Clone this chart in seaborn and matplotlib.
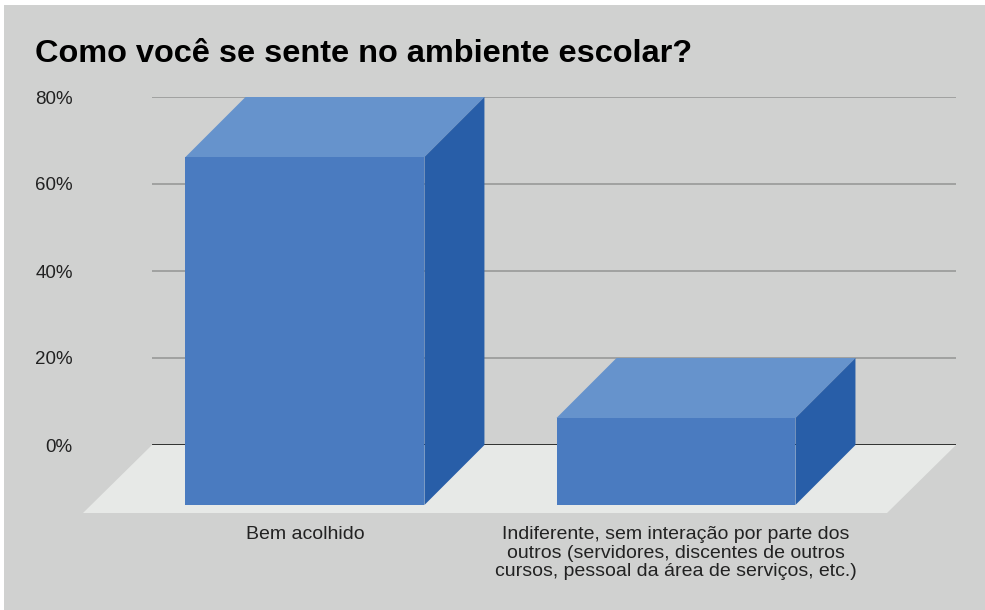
import matplotlib
matplotlib.use("Agg")
import matplotlib.pyplot as plt
from matplotlib.patches import Polygon, Rectangle
from matplotlib.transforms import IdentityTransform
import seaborn as sns
import pandas as pd

# ---- data ----
categories = [
    "Bem acolhido",
    "Indiferente, sem interação por parte dos\noutros (servidores, discentes de outros\ncursos, pessoal da área de serviços, etc.)",
]
values = [80, 20]
y_ticks = [0, 20, 40, 60, 80]
y_tick_labels = ["0%", "20%", "40%", "60%", "80%"]
title = "Como você se sente no ambiente escolar?"

# ---- style ----
W, H, DPI = 985, 610, 100
BG = "#d0d1d0"
FLOOR = "#e7e9e7"
FRONT = "#4a7bc0"
TOP = "#6693cc"
SIDE = "#285ea8"
GRID = "#9d9e9d"
TXT = "#222222"
DEPTH = 60          # px depth of the bars
FLOOR_FRONT = 8     # px the floor sticks out in front of the bars

sns.set_theme(style="white")
plt.rcParams["font.family"] = ["Liberation Sans", "DejaVu Sans"]

fig = plt.figure(figsize=(W / DPI, H / DPI), dpi=DPI, facecolor="white")
fig.patches.append(Rectangle((4 / W, 0), 1, 1 - 5 / H, transform=fig.transFigure,
                             facecolor=BG, edgecolor="none", zorder=-10))

def frac(left, top, right, bottom):
    return [left / W, 1 - bottom / H, (right - left) / W, (bottom - top) / H]

# back plane (gridlines) and front plane (bars)
back_px = (152, 97, 956, 445)
front_px = (back_px[0] - DEPTH, back_px[1] + DEPTH, back_px[2] - DEPTH, back_px[3] + DEPTH)
ax_back = fig.add_axes(frac(*back_px))
ax_front = fig.add_axes(frac(*front_px))

xlim = (-0.574, 1.593)
ylim = (0, 80)
for ax in (ax_back, ax_front):
    ax.set_xlim(*xlim)
    ax.set_ylim(*ylim)
    ax.patch.set_alpha(0)
    for s in ax.spines.values():
        s.set_visible(False)

# back wall: gridlines & y labels
for v in y_ticks[1:]:
    ax_back.axhline(v, color=GRID, lw=1.3, zorder=1)
ax_back.axhline(0, color=TXT, lw=2.0, zorder=2)
ax_back.set_yticks(y_ticks)
ax_back.set_yticklabels(y_tick_labels, fontsize=13.5, color=TXT)
ax_back.tick_params(axis="y", length=0, pad=57)
ax_back.set_xticks([])

# bars (front faces)
df = pd.DataFrame({"cat": categories, "val": values})
sns.barplot(data=df, x="cat", y="val", ax=ax_front, color=FRONT, saturation=1,
            width=0.644, edgecolor="none", zorder=5)
ax_front.set_xlim(*xlim)
ax_front.set_ylim(*ylim)
ax_front.set_xlabel("")
ax_front.set_ylabel("")
ax_front.set_yticks([])
ax_front.tick_params(axis="x", length=0, pad=15)
for lbl in ax_front.get_xticklabels():
    lbl.set_fontsize(14)
    lbl.set_color(TXT)
    lbl.set_linespacing(1.14)
    lbl.set_multialignment("center")

fig.canvas.draw()
ident = IdentityTransform()

# floor (drawn in the back axes so it sits behind the bars)
bx0, by0 = ax_back.transData.transform((xlim[0], 0))
bx1, _ = ax_back.transData.transform((xlim[1], 0))
dd = DEPTH + FLOOR_FRONT
floor = Polygon([(bx0, by0), (bx1, by0), (bx1 - dd - 1, by0 - dd), (bx0 - dd - 1, by0 - dd)],
                closed=True, transform=ident, facecolor=FLOOR, edgecolor="none", zorder=0,
                clip_on=False)
ax_back.add_patch(floor)

# 3D faces of bars
for p in list(ax_front.patches):
    (x0, y0), (x1, y1) = ax_front.transData.transform([(p.get_x(), p.get_y()),
                                                       (p.get_x() + p.get_width(), p.get_y() + p.get_height())])
    top = Polygon([(x0, y1), (x1, y1), (x1 + DEPTH, y1 + DEPTH), (x0 + DEPTH, y1 + DEPTH)],
                  closed=True, transform=ident, facecolor=TOP, edgecolor="none", zorder=4, clip_on=False)
    side = Polygon([(x1, y0), (x1 + DEPTH, y0 + DEPTH), (x1 + DEPTH, y1 + DEPTH), (x1, y1)],
                   closed=True, transform=ident, facecolor=SIDE, edgecolor="none", zorder=4, clip_on=False)
    ax_front.add_patch(top)
    ax_front.add_patch(side)

fig.text(35 / W, 1 - 62 / H, title, fontsize=23.4, fontweight="bold", color="black",
         ha="left", va="baseline")

fig.savefig("out.png", dpi=DPI, facecolor=fig.get_facecolor())
